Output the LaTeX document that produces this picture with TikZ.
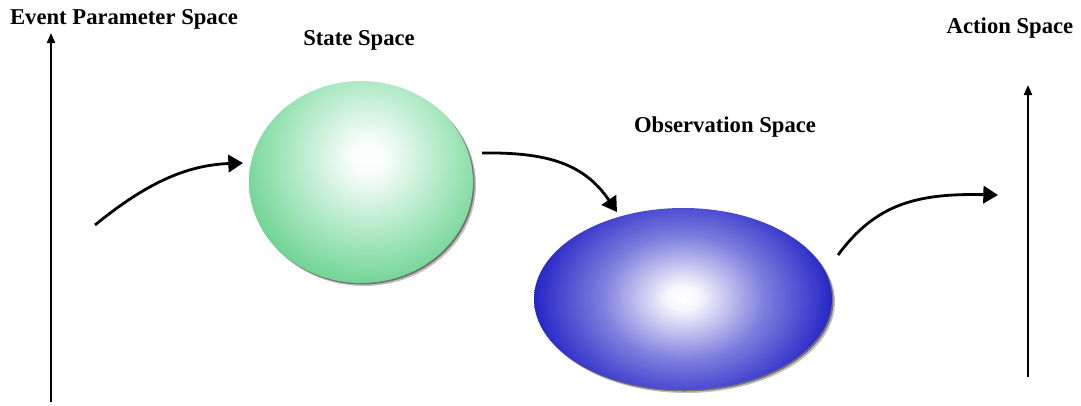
\documentclass[tikz,border=0pt]{standalone}
\usepackage{fontspec}
\setmainfont{Liberation Serif}
\usetikzlibrary{arrows.meta,shapes.geometric}
\definecolor{gedge}{RGB}{88,204,128}
\definecolor{gmid}{RGB}{165,230,190}
\definecolor{bedge}{RGB}{26,26,196}
\definecolor{bmid}{RGB}{125,125,222}
\pgfdeclareradialshading{greenball}{\pgfpoint{0bp}{0bp}}{color(0bp)=(white); color(3bp)=(white!92!gmid); color(14bp)=(gmid); color(25bp)=(gedge); color(50bp)=(gedge)}
\pgfdeclareradialshading{blueball}{\pgfpoint{0bp}{0bp}}{color(0bp)=(white); color(2.5bp)=(white!94!bmid); color(13bp)=(bmid); color(25bp)=(bedge); color(50bp)=(bedge)}
\tikzset{
  lbl/.style={font=\fontsize{17}{20}\selectfont\bfseries, anchor=base, inner sep=0pt},
  axis/.style={line width=1.5pt, -{Triangle[length=7.5pt,width=6pt]}},
  flow/.style={line width=2.1pt, -{Triangle[length=11pt,width=13pt]}},
  blob/.style={ellipse, inner sep=0pt}
}
\begin{document}
\begin{tikzpicture}[x=0.75pt,y=-0.75pt]
\useasboundingbox (0,0) rectangle (1081,405);
% shadows
\fill[black!25] (364,185) ellipse (112 and 101);
\fill[black!55] (362.5,183.5) ellipse (112 and 101);
\fill[black!25] (686,302) ellipse (149 and 91);
\fill[black!55] (684.5,300.5) ellipse (149 and 91);
% green ball
\begin{scope}
\clip (361,182) ellipse (112 and 101);
\shade[shading=greenball] (368,157) circle (150);
\end{scope}
% blue ball
\begin{scope}
\clip (683,299) ellipse (149 and 91);
\shade[shading=blueball] (683,298) ellipse (158 and 120);
\end{scope}
\node[blob, minimum width=168pt, minimum height=151.5pt] (state) at (361,182) {};
\node[blob, minimum width=223.5pt, minimum height=136.5pt] (obs) at (683,299) {};
% labels
\node[lbl] (lep) at (124,24) {Event Parameter Space};
\node[lbl] (lss) at (359,45) {State Space};
\node[lbl] (los) at (725,132) {Observation Space};
\node[lbl] (las) at (1010,33) {Action Space};
% axes
\coordinate (ebot) at (51,402);
\coordinate (etop) at (51,33);
\coordinate (abot) at (1028,377);
\coordinate (atop) at (1028,85);
\draw[axis] (ebot) -- (etop);
\draw[axis] (abot) -- (atop);
% flow arrows
\coordinate (f1s) at (95,225);
\coordinate (f1e) at (243,163);
\coordinate (f2s) at (482,153);
\coordinate (f2e) at (617,212);
\coordinate (f3s) at (838,255);
\coordinate (f3e) at (998,195);
\draw[flow] (f1s) .. controls (150,180) and (190,165) .. (f1e);
\draw[flow] (f2s) .. controls (550,152) and (585,165) .. (f2e);
\draw[flow] (f3s) .. controls (875,205) and (915,193) .. (f3e);
\end{tikzpicture}
\end{document}
